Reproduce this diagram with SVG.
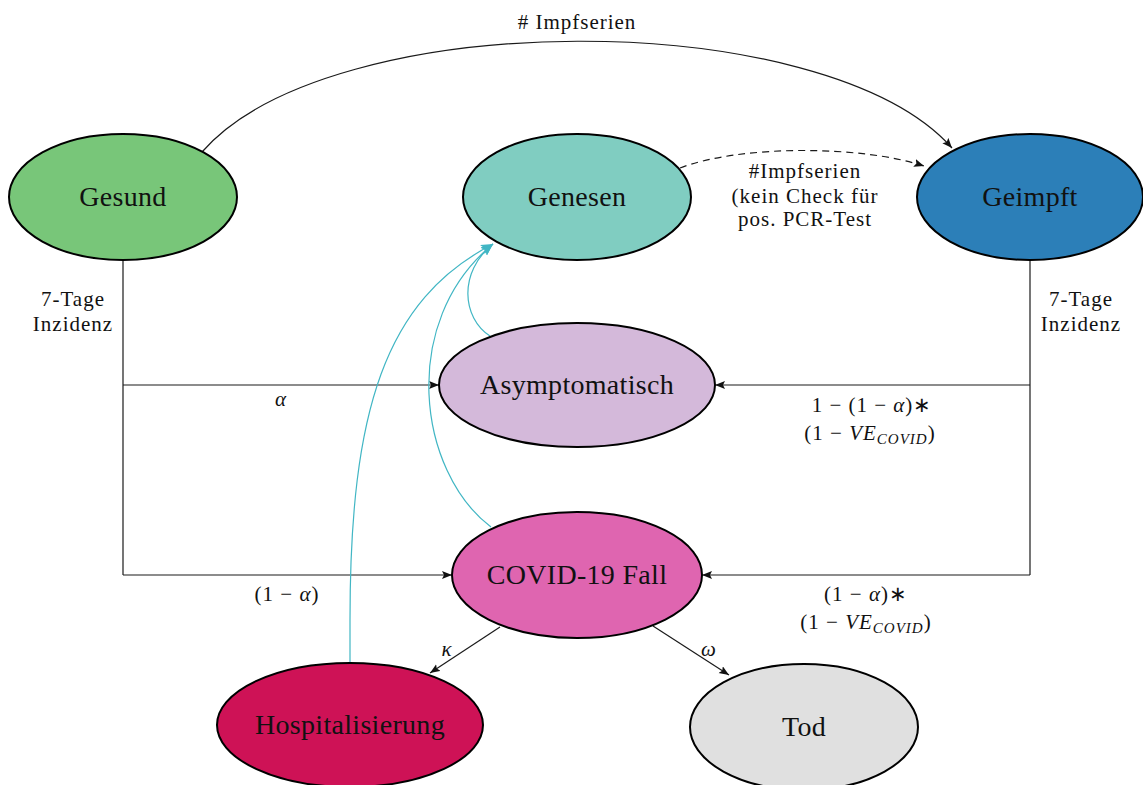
<svg xmlns="http://www.w3.org/2000/svg" width="1143" height="785" viewBox="0 0 1143 785">
<defs>
<marker id="ah" markerUnits="userSpaceOnUse" markerWidth="12" markerHeight="10" refX="10" refY="4" orient="auto">
<path d="M0,0 L10,4 L0,8 L2,4 z" fill="#111"/>
</marker>
<marker id="ahc" markerUnits="userSpaceOnUse" markerWidth="14" markerHeight="12" refX="12" refY="5" orient="auto">
<path d="M0,0 L12,5 L0,10 L2.5,5 z" fill="#41b6c4"/>
</marker>
</defs>
<style>
.node{stroke:#000;stroke-width:2}
.nt{font-family:"Liberation Serif","Times New Roman",serif;font-size:28px;fill:#111;text-anchor:middle;letter-spacing:0.3px}
.lb{font-family:"Liberation Serif","Times New Roman",serif;font-size:21px;fill:#111;text-anchor:middle;letter-spacing:1px}
.it{font-style:italic}
.sub{font-style:italic;font-size:15px}
.ed{fill:none;stroke:#1a1a1a;stroke-width:1.2}
.cy{fill:none;stroke:#41b6c4;stroke-width:1.2}
</style>
<rect width="1143" height="785" fill="#fff"/>
<g id="connectors">
<path class="ed" d="M202,152 C330,5 825,5 952,148" marker-end="url(#ah)"/>
<path class="ed" d="M680,168 C740,145 860,145 924,166" stroke-dasharray="7,5" marker-end="url(#ah)"/>
<path class="ed" d="M123,260 L123,575"/>
<path class="ed" d="M123,385 L439,385" marker-end="url(#ah)"/>
<path class="ed" d="M123,575 L452,575" marker-end="url(#ah)"/>
<path class="ed" d="M1030,260 L1030,575"/>
<path class="ed" d="M1030,385 L715,385" marker-end="url(#ah)"/>
<path class="ed" d="M1030,575 L702,575" marker-end="url(#ah)"/>
<path class="ed" d="M500,627 L430,673" marker-end="url(#ah)"/>
<path class="ed" d="M653,626 L729,675" marker-end="url(#ah)"/>
<path class="cy" d="M490,336 C462,318 458,272 493,244" marker-end="url(#ahc)"/>
<path class="cy" d="M491,527 C418,472 398,322 493,244" marker-end="url(#ahc)"/>
<path class="cy" d="M350,663 L350,620 C350,410 385,300 493,244" marker-end="url(#ahc)"/>
<text class="lb" x="577" y="29"># Impfserien</text>
<text class="lb" x="805" y="178">#Impfserien</text>
<text class="lb" x="805" y="203">(kein Check für</text>
<text class="lb" x="805" y="226">pos. PCR-Test</text>
<text class="lb" x="73" y="306">7-Tage</text>
<text class="lb" x="73" y="331">Inzidenz</text>
<text class="lb" x="1081" y="306">7-Tage</text>
<text class="lb" x="1081" y="331">Inzidenz</text>
<text class="lb it" x="281" y="406">α</text>
<text class="lb" x="287" y="601">(1 − <tspan class="it">α</tspan>)</text>
<text class="lb" x="872" y="412">1 − (1 − <tspan class="it">α</tspan>)∗</text>
<text class="lb" x="870" y="440">(1 − <tspan class="it">VE</tspan><tspan class="sub" dy="4">COVID</tspan><tspan dy="-4">)</tspan></text>
<text class="lb" x="866" y="601">(1 − <tspan class="it">α</tspan>)∗</text>
<text class="lb" x="866" y="629">(1 − <tspan class="it">VE</tspan><tspan class="sub" dy="4">COVID</tspan><tspan dy="-4">)</tspan></text>
<text class="lb it" x="447" y="656">κ</text>
<text class="lb it" x="709" y="656">ω</text>
</g>
<g id="gesund"><ellipse class="node" cx="123" cy="197" rx="114" ry="63" fill="#78c679"/><text class="nt" x="123" y="206">Gesund</text></g>
<g id="genesen"><ellipse class="node" cx="577" cy="197" rx="114" ry="63" fill="#80cdc1"/><text class="nt" x="577" y="206">Genesen</text></g>
<g id="geimpft"><ellipse class="node" cx="1030" cy="197" rx="113" ry="63" fill="#2c7fb8"/><text class="nt" x="1030" y="206">Geimpft</text></g>
<g id="asymptomatisch"><ellipse class="node" cx="577" cy="385" rx="138" ry="62" fill="#d4b9da"/><text class="nt" x="577" y="394">Asymptomatisch</text></g>
<g id="covid"><ellipse class="node" cx="577" cy="575" rx="125" ry="63" fill="#df65b0"/><text class="nt" x="577" y="584">COVID-19 Fall</text></g>
<g id="hospitalisierung"><ellipse class="node" cx="350" cy="725" rx="133" ry="62" fill="#ce1256"/><text class="nt" x="350" y="734">Hospitalisierung</text></g>
<g id="tod"><ellipse class="node" cx="804" cy="727" rx="114" ry="63" fill="#e0e0e0"/><text class="nt" x="804" y="736">Tod</text></g>
</svg>
